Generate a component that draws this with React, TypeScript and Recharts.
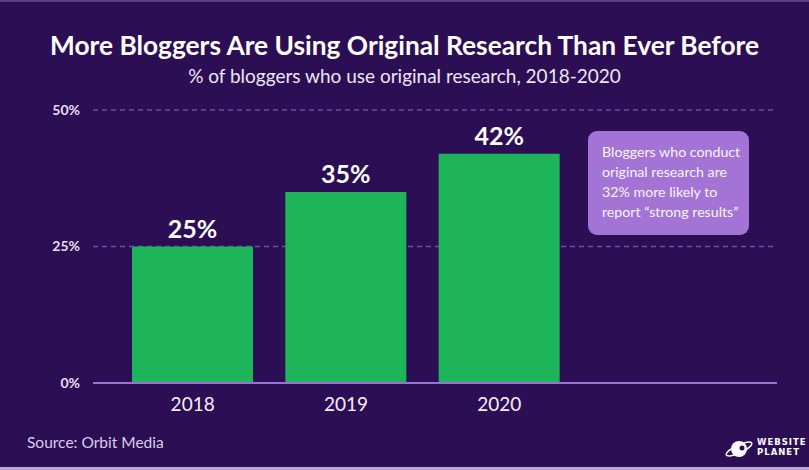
import React from 'react';
import { BarChart, Bar, XAxis, YAxis, CartesianGrid, LabelList } from 'recharts';

const years = ['2018', '2019', '2020'];
const shares = [25, 35, 42];
const yTicks = [0, 25, 50];

const BG = '#2c0e54';
const FONT = 'Lato, "Open Sans", sans-serif';

const data = years.map((year, i) => ({ year, value: shares[i] }));

export default function App() {
  return (
    <div
      style={{
        position: 'absolute',
        left: 0,
        top: 0,
        width: 809,
        height: 470,
        background: BG,
        fontFamily: FONT,
        overflow: 'hidden',
      }}
    >
      <div style={{ position: 'absolute', left: 0, top: 0, width: 809, height: 2, background: '#5a3f86' }} />
      <div style={{ position: 'absolute', left: 0, bottom: 0, width: 809, height: 3, background: '#b9a5d8' }} />

      <div
        style={{
          position: 'absolute',
          top: 28,
          width: 809,
          textAlign: 'center',
          color: '#ffffff',
          fontWeight: 700,
          fontSize: 26.3,
          lineHeight: '34px',
        }}
      >
        More Bloggers Are Using Original Research Than Ever Before
      </div>
      <div
        style={{
          position: 'absolute',
          top: 63,
          width: 809,
          textAlign: 'center',
          color: '#ece6f5',
          fontSize: 19,
          lineHeight: '26px',
        }}
      >
        % of bloggers who use original research, 2018-2020
      </div>

      <BarChart
        width={809}
        height={470}
        data={data}
        margin={{ top: 110, right: 32, bottom: 57, left: 0 }}
        style={{ position: 'absolute', left: 0, top: 0 }}
      >
        <CartesianGrid horizontal vertical={false} stroke="#6e4fa8" strokeDasharray="5 4" strokeWidth={1.5} />
        <XAxis
          dataKey="year"
          height={30}
          padding={{ left: 23, right: 201 }}
          axisLine={{ stroke: '#9d6fd8', strokeWidth: 2 }}
          tickLine={false}
          tickMargin={9}
          tick={{ fill: '#f4f0fa', fontSize: 19, fontFamily: FONT }}
        />
        <YAxis
          width={93}
          domain={[0, 50]}
          ticks={yTicks}
          axisLine={false}
          tickLine={false}
          tickMargin={7}
          tickFormatter={(v: number) => `${v}%`}
          tick={{ fill: '#e6dff0', fontSize: 14, fontWeight: 700, fontFamily: FONT }}
        />
        <Bar dataKey="value" fill="#1db45a" barSize={121} isAnimationActive={false}>
          <LabelList
            dataKey="value"
            position="top"
            offset={9}
            formatter={(v: number) => `${v}%`}
            style={{ fill: '#ffffff', fontSize: 25, fontWeight: 700, fontFamily: FONT }}
          />
        </Bar>
      </BarChart>

      <div
        style={{
          position: 'absolute',
          left: 588,
          top: 131,
          width: 161,
          height: 104,
          boxSizing: 'border-box',
          padding: '11px 0 0 14px',
          background: '#a374d6',
          borderRadius: 9,
          color: '#f8f4fc',
          fontSize: 14.2,
          lineHeight: '20px',
          whiteSpace: 'nowrap',
        }}
      >
        Bloggers who conduct
        <br />
        original research are
        <br />
        32% more likely to
        <br />
        report “strong results”
      </div>

      <div
        style={{
          position: 'absolute',
          left: 27,
          top: 432,
          color: '#d9cde9',
          fontSize: 15.5,
          lineHeight: '20px',
        }}
      >
        Source: Orbit Media
      </div>

      <svg width={30} height={22} style={{ position: 'absolute', left: 725, top: 438 }}>
        <circle cx={14} cy={11} r={8} fill="#ffffff" />
        <ellipse cx={14} cy={11} rx={14} ry={4} fill="none" stroke="#ffffff" strokeWidth={1.5} transform="rotate(-25 14 11)" />
        <circle cx={17} cy={10} r={2.5} fill={BG} />
      </svg>
      <div
        style={{
          position: 'absolute',
          left: 757,
          top: 437,
          color: '#ffffff',
          fontSize: 8.5,
          fontWeight: 700,
          letterSpacing: 1,
          lineHeight: '10px',
          fontFamily: '"DejaVu Sans", sans-serif',
        }}
      >
        WEBSITE
        <br />
        PLANET
      </div>
    </div>
  );
}
